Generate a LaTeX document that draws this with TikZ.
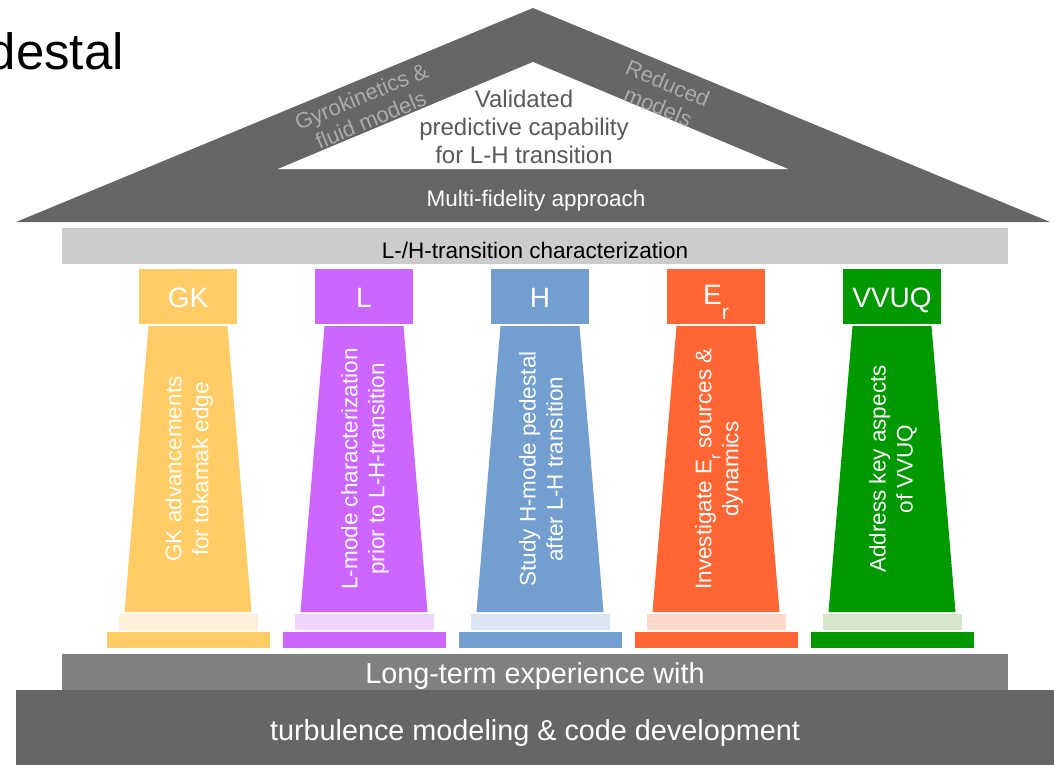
\documentclass[tikz,border=0pt]{standalone}
\usepackage{fontspec}
\setmainfont{Liberation Sans}
\usetikzlibrary{positioning}

\definecolor{roofgray}{HTML}{666666}
\definecolor{beamgray}{HTML}{CCCCCC}
\definecolor{stepgray}{HTML}{808080}
\definecolor{labelgray}{HTML}{ABABAB}
\definecolor{goalgray}{HTML}{595959}
\definecolor{gkcol}{HTML}{FFCC66}
\definecolor{gklight}{HTML}{FFF0D9}
\definecolor{lcol}{HTML}{CC66FF}
\definecolor{llight}{HTML}{F0D6FD}
\definecolor{hcol}{HTML}{729FCF}
\definecolor{hlight}{HTML}{DCE6F2}
\definecolor{ercol}{HTML}{FF6633}
\definecolor{erlight}{HTML}{FFD9CC}
\definecolor{vvcol}{HTML}{009900}
\definecolor{vvlight}{HTML}{D6E5CA}

\begin{document}
\begin{tikzpicture}[x=1pt,y=-1pt,
  caplabel/.style={text=white,anchor=base,font=\fontsize{28}{28}\selectfont},
  shafttext/.style={text=white,rotate=90,align=center,font=\fontsize{22.5}{27}\selectfont},
  rooflabel/.style={text=labelgray,align=center,font=\fontsize{22}{25}\selectfont},
  bartext/.style={anchor=base,font=\fontsize{22.5}{27}\selectfont},
  bigtext/.style={text=white,anchor=base,font=\fontsize{28.8}{32}\selectfont}]

\useasboundingbox (0,0) rectangle (1054,765);

% Title fragment (cut by the page edge)
\node[anchor=base east,inner sep=0pt,font=\fontsize{51}{51}\selectfont] (title) at (124,70) {destal};

% Roof
\fill[roofgray] (16,222) -- (533,8) -- (1050,222) -- cycle;
\fill[white] (278,169) -- (533,62) -- (788,169) -- cycle;
\node[rooflabel,rotate=22.6] (gyro) at (366,108) {Gyrokinetics \&\\fluid models};
\node[rooflabel,rotate=-22.6] (reduced) at (663,95) {Reduced\\models};
\node[align=center,text=goalgray,font=\fontsize{24}{28}\selectfont] (goal) at (524,127)
  {Validated\\predictive capability\\for L-H transition};
\node[bartext,text=white] (multi) at (536,206) {Multi-fidelity approach};

% Beam
\fill[beamgray] (62,228) rectangle (1008,264);
\node[bartext] (beam) at (535,258) {L-/H-transition characterization};

% GK pillar
\fill[gkcol] (139,269) rectangle (237,324);
\fill[gkcol] (148.5,326) -- (227.5,326) -- (251.5,612) -- (124.5,612) -- cycle;
\fill[gklight] (118.5,614) rectangle (257.5,630);
\fill[gkcol] (106.5,632) rectangle (269.5,648);
\node[caplabel] (gk) at (188,307) {GK};
\node[shafttext] (gktext) at (189,469) {GK advancements\\for tokamak edge};

% L pillar
\fill[lcol] (315,269) rectangle (413,324);
\fill[lcol] (324.5,326) -- (403.5,326) -- (427.5,612) -- (300.5,612) -- cycle;
\fill[llight] (294.5,614) rectangle (433.5,630);
\fill[lcol] (282.5,632) rectangle (445.5,648);
\node[caplabel] (l) at (364,307) {L};
\node[shafttext] (ltext) at (365,469) {L-mode characterization\\prior to L-H-transition};

% H pillar
\fill[hcol] (491,269) rectangle (589,324);
\fill[hcol] (500.5,326) -- (579.5,326) -- (603.5,612) -- (476.5,612) -- cycle;
\fill[hlight] (470.5,614) rectangle (609.5,630);
\fill[hcol] (458.5,632) rectangle (621.5,648);
\node[caplabel] (h) at (540,307) {H};
\node[shafttext] (htext) at (541,469) {Study H-mode pedestal\\after L-H transition};

% Er pillar
\fill[ercol] (667,269) rectangle (765,324);
\fill[ercol] (676.5,326) -- (755.5,326) -- (779.5,612) -- (652.5,612) -- cycle;
\fill[erlight] (646.5,614) rectangle (785.5,630);
\fill[ercol] (634.5,632) rectangle (797.5,648);
\node[caplabel] (er) at (716,304) {E\raisebox{-15pt}{\fontsize{21}{21}\selectfont r}};
\node[shafttext] (ertext) at (719,469)
  {Investigate E\raisebox{-9pt}{\fontsize{15}{15}\selectfont r} sources \&\\dynamics};

% VVUQ pillar
\fill[vvcol] (843,269) rectangle (941,324);
\fill[vvcol] (852.5,326) -- (931.5,326) -- (955.5,612) -- (828.5,612) -- cycle;
\fill[vvlight] (822.5,614) rectangle (961.5,630);
\fill[vvcol] (810.5,632) rectangle (973.5,648);
\node[caplabel] (vv) at (892,307) {VVUQ};
\node[shafttext] (vvtext) at (893,469) {Address key aspects\\of VVUQ};

% Foundation
\fill[stepgray] (62,654) rectangle (1008,690);
\node[bigtext] (exp) at (535,683) {Long-term experience with};
\fill[roofgray] (16,690) rectangle (1054,765);
\node[bigtext] (turb) at (535,740) {turbulence modeling \& code development};

\end{tikzpicture}
\end{document}
